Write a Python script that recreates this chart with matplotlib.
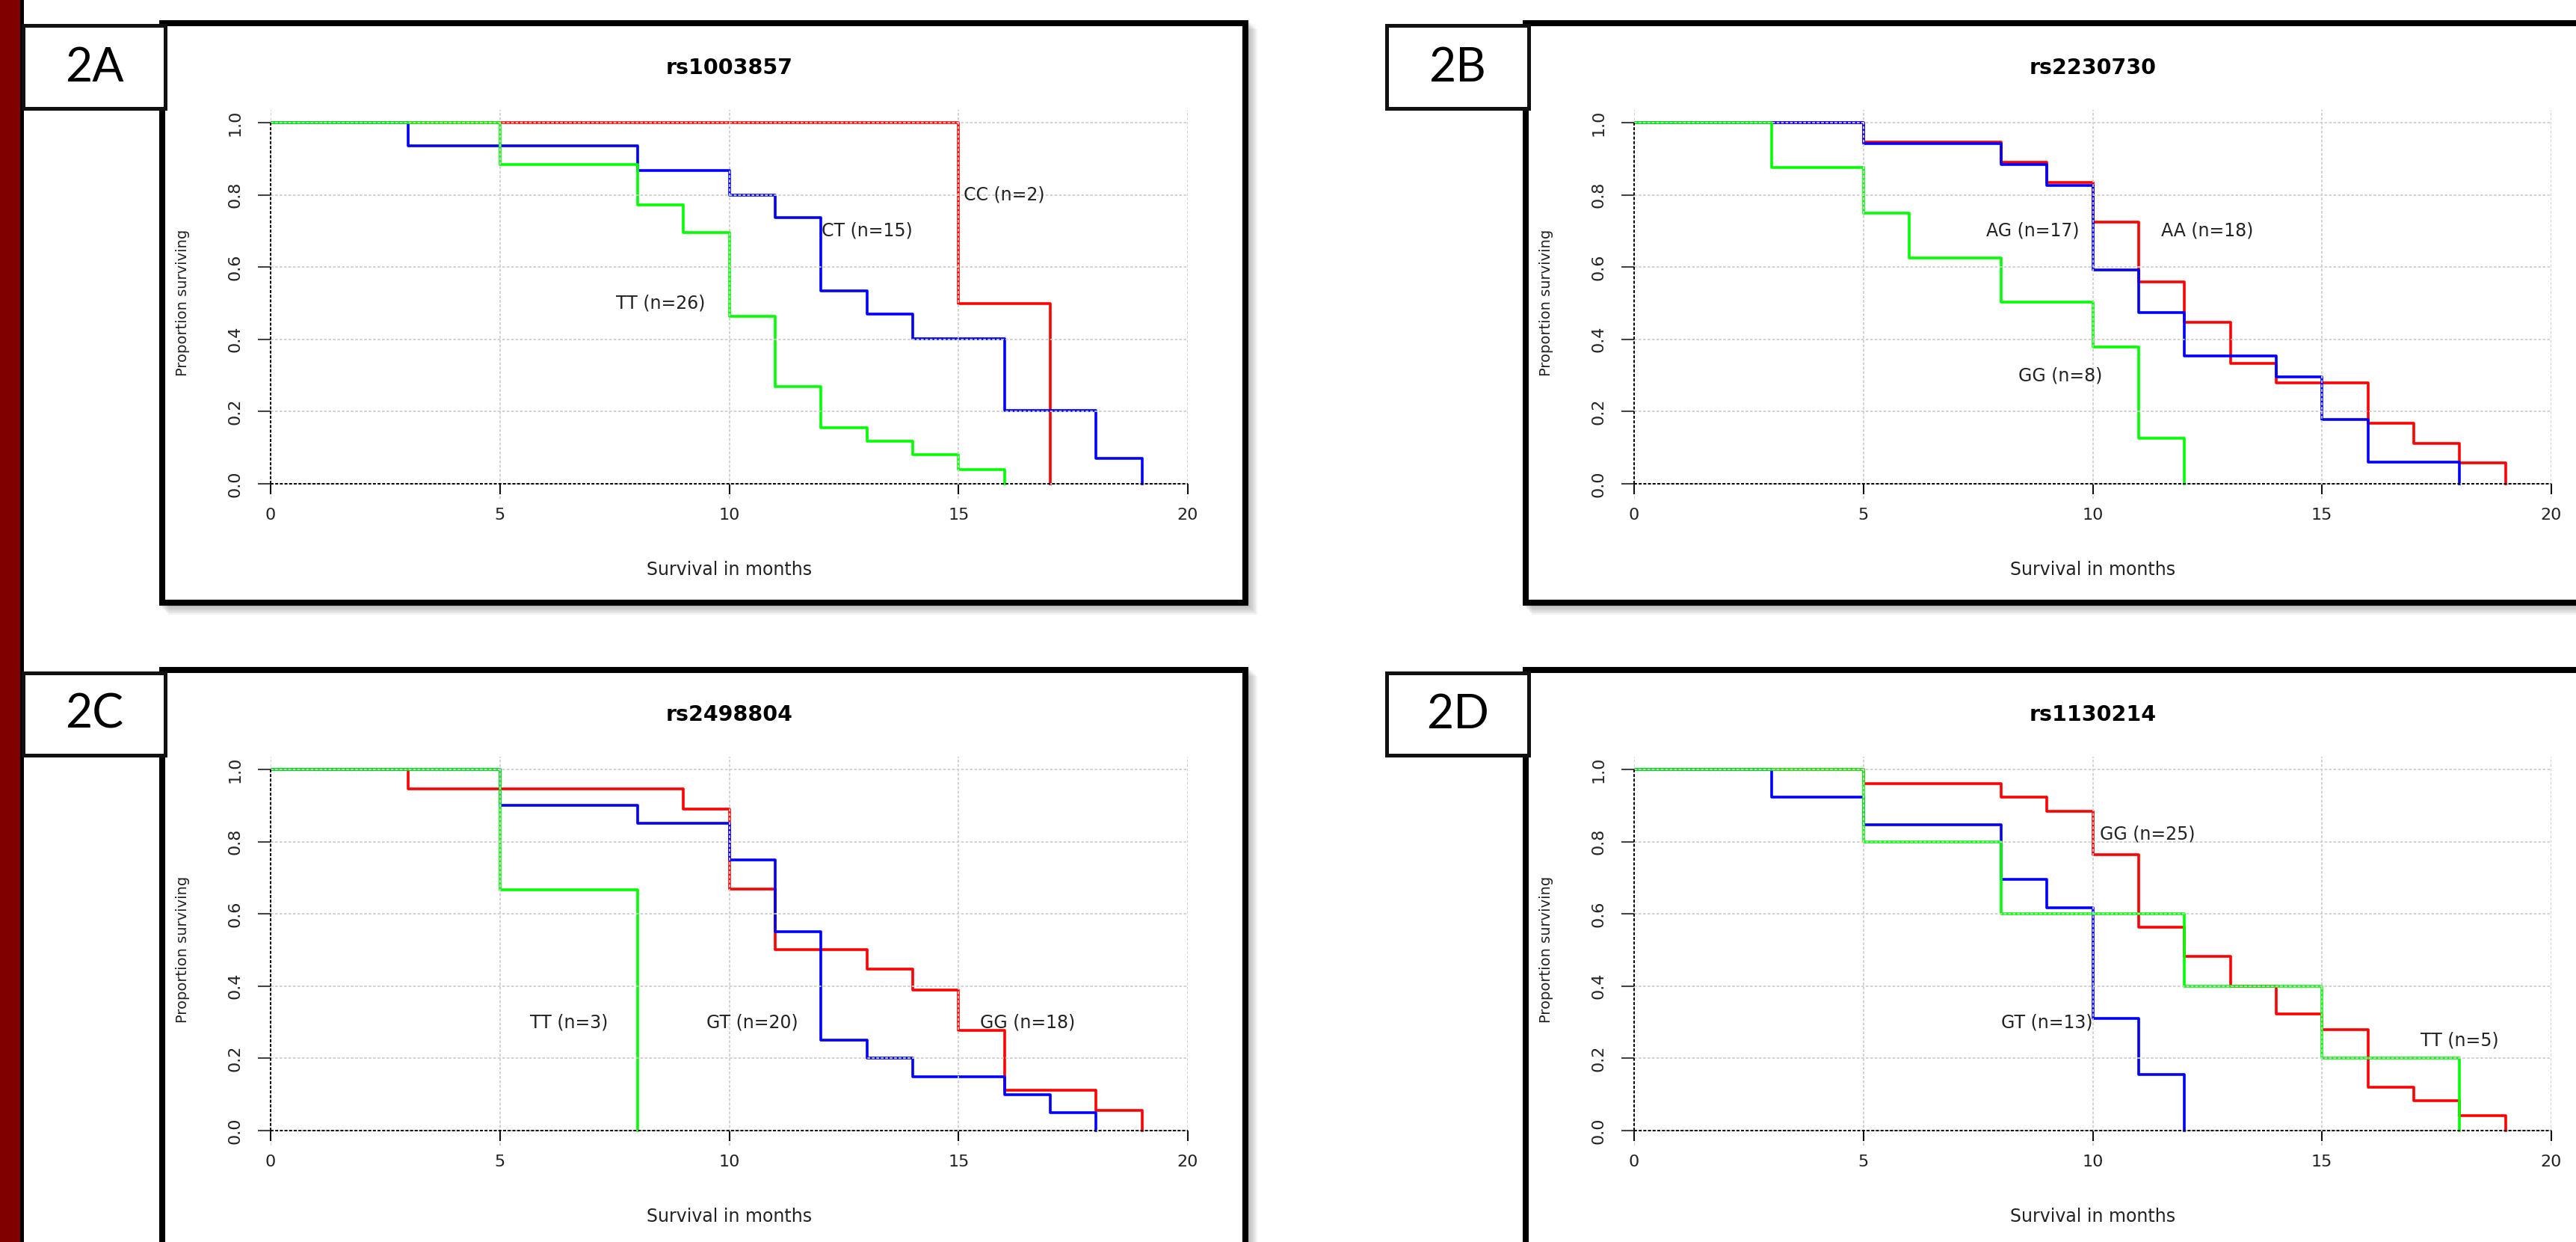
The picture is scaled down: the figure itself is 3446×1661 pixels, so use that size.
import matplotlib
matplotlib.use('Agg')
import matplotlib.pyplot as plt
from matplotlib.patches import Rectangle

plt.rcParams['font.family'] = ['DejaVu Sans']

# --- data (time in months, survival proportion) ---
x_ticks = [0, 5, 10, 15, 20]
y_ticks = [0.0, 0.2, 0.4, 0.6, 0.8, 1.0]
y_tick_labels = ['0.0', '0.2', '0.4', '0.6', '0.8', '1.0']

# 2A rs1003857
a_cc_t = [0, 15, 17]
a_cc_s = [1.0, 0.5, 0.0]
a_ct_t = [0, 3, 8, 10, 11, 12, 13, 14, 16, 18, 19]
a_ct_s = [1.0, 0.935, 0.867, 0.80, 0.737, 0.535, 0.469, 0.402, 0.203, 0.07, 0.0]
a_tt_t = [0, 5, 8, 9, 10, 11, 12, 13, 14, 15, 16]
a_tt_s = [1.0, 0.885, 0.772, 0.695, 0.463, 0.269, 0.156, 0.118, 0.080, 0.040, 0.0]

# 2B rs2230730
b_aa_t = [0, 5, 8, 9, 10, 11, 12, 13, 14, 16, 17, 18, 19]
b_aa_s = [1.0, 0.946, 0.891, 0.835, 0.724, 0.559, 0.448, 0.333, 0.279, 0.168, 0.112, 0.057, 0.0]
b_ag_t = [0, 5, 8, 9, 10, 11, 12, 14, 15, 16, 18]
b_ag_s = [1.0, 0.942, 0.885, 0.827, 0.592, 0.474, 0.355, 0.296, 0.179, 0.06, 0.0]
b_gg_t = [0, 3, 5, 6, 8, 10, 11, 12]
b_gg_s = [1.0, 0.876, 0.75, 0.625, 0.504, 0.378, 0.127, 0.0]

# 2C rs2498804
c_gg_t = [0, 3, 9, 10, 11, 13, 14, 15, 16, 18, 19]
c_gg_s = [1.0, 0.946, 0.891, 0.668, 0.502, 0.447, 0.389, 0.278, 0.112, 0.056, 0.0]
c_gt_t = [0, 5, 8, 10, 11, 12, 13, 14, 16, 17, 18]
c_gt_s = [1.0, 0.90, 0.85, 0.75, 0.55, 0.25, 0.20, 0.15, 0.10, 0.05, 0.0]
c_tt_t = [0, 5, 8]
c_tt_s = [1.0, 0.667, 0.0]

# 2D rs1130214
d_gg_t = [0, 5, 8, 9, 10, 11, 12, 13, 14, 15, 16, 17, 18, 19]
d_gg_s = [1.0, 0.96, 0.924, 0.884, 0.764, 0.563, 0.483, 0.40, 0.322, 0.28, 0.12, 0.083, 0.041, 0.0]
d_gt_t = [0, 3, 5, 8, 9, 10, 11, 12]
d_gt_s = [1.0, 0.924, 0.847, 0.696, 0.617, 0.31, 0.155, 0.0]
d_tt_t = [0, 5, 8, 12, 15, 18]
d_tt_s = [1.0, 0.80, 0.60, 0.40, 0.20, 0.0]

panels = [
    dict(tag='2A', title='rs1003857', dx=0, dy=0,
         curves=[(a_cc_t, a_cc_s, 'red'), (a_ct_t, a_ct_s, 'blue'), (a_tt_t, a_tt_s, '#00ff00')],
         notes=[('CC (n=2)', 16.0, 0.80), ('CT (n=15)', 13.0, 0.70), ('TT (n=26)', 8.5, 0.50)]),
    dict(tag='2B', title='rs2230730', dx=1824, dy=0,
         curves=[(b_aa_t, b_aa_s, 'red'), (b_ag_t, b_ag_s, 'blue'), (b_gg_t, b_gg_s, '#00ff00')],
         notes=[('AG (n=17)', 8.7, 0.70), ('AA (n=18)', 12.5, 0.70), ('GG (n=8)', 9.3, 0.30)]),
    dict(tag='2C', title='rs2498804', dx=0, dy=865,
         curves=[(c_gg_t, c_gg_s, 'red'), (c_gt_t, c_gt_s, 'blue'), (c_tt_t, c_tt_s, '#00ff00')],
         notes=[('TT (n=3)', 6.5, 0.30), ('GT (n=20)', 10.5, 0.30), ('GG (n=18)', 16.5, 0.30)]),
    dict(tag='2D', title='rs1130214', dx=1824, dy=865,
         curves=[(d_gg_t, d_gg_s, 'red'), (d_gt_t, d_gt_s, 'blue'), (d_tt_t, d_tt_s, '#00ff00')],
         notes=[('GG (n=25)', 11.2, 0.82), ('GT (n=13)', 9.0, 0.30), ('TT (n=5)', 18.0, 0.25)]),
]

W, H = 3446, 1661
fig = plt.figure(figsize=(W / 100, H / 100), dpi=100)
fig.patch.set_facecolor('white')


def box(x1, y1, x2, y2, **kw):
    # rectangle in pixel coords, origin top-left
    r = Rectangle((x1 / W, 1 - y2 / H), (x2 - x1) / W, (y2 - y1) / H,
                  transform=fig.transFigure, **kw)
    fig.add_artist(r)
    return r


def ftext(x, y, s, **kw):
    fig.text(x / W, 1 - y / H, s, ha='center', va='center', **kw)


# dark red strip on the left
box(0, 0, 27, H, facecolor='#800000', edgecolor='none', zorder=-10)
box(27, 0, 32, H, facecolor='black', edgecolor='none', zorder=-10)

for p in panels:
    dx, dy = p['dx'], p['dy']

    # soft drop shadow
    for s in range(2, 14, 2):
        box(213 + dx + s, 27 + dy + s, 1670 + dx + s, 810 + dy + s,
            facecolor='#555555', edgecolor='none', alpha=0.07, zorder=-9)
    # panel frame
    box(217 + dx, 31 + dy, 1666 + dx, 806 + dy, facecolor='white',
        edgecolor='black', linewidth=5.8, zorder=-8)

    # label box
    box(30.5 + dx, 34.5 + dy, 220.5 + dx, 144.5 + dy, facecolor='white',
        edgecolor='#111111', linewidth=3.6, zorder=5)
    ftext(126 + dx, 91 + dy, p['tag'], fontsize=45, family=['Lato', 'DejaVu Sans'],
          color='black', zorder=6)

    # plotting region: x 0..20 -> 362..1589 px, y 0..1 -> 647..164 px
    ax = fig.add_axes([(362 + dx) / W, 1 - (667.3 + dy) / H, 1227 / W, 520.2 / H])
    ax.set_facecolor('none')
    ax.set_xlim(0, 20)
    ax.set_ylim(-0.042, 1.035)

    for t, s, c in p['curves']:
        ax.step(t, s, where='post', color=c, lw=2.6, zorder=2)

    ax.set_axisbelow(False)
    ax.grid(True, color='#cfcfcf', lw=1.3, linestyle=(0, (2, 1.3)))

    ax.plot([0, 20], [0, 0], color='black', lw=1.4, linestyle=(0, (2, 1.2)),
            clip_on=False, zorder=3)
    ax.plot([0, 0], [0, 1], color='black', lw=1.4, linestyle=(0, (2, 1.2)),
            clip_on=False, zorder=3)

    for txt, x, y in p['notes']:
        ax.text(x, y, txt, ha='center', va='center', fontsize=17, color='#222222', zorder=4)

    for sp in ax.spines.values():
        sp.set_visible(False)
    ax.spines['bottom'].set_position(('data', 0))

    ax.set_xticks(x_ticks)
    ax.set_xticklabels([str(v) for v in x_ticks])
    ax.set_yticks(y_ticks)
    ax.set_yticklabels(y_tick_labels, rotation=90, va='center')
    ax.tick_params(axis='x', length=10, width=1.5, color='#111111', pad=13,
                   labelsize=16, labelcolor='#222222')
    ax.tick_params(axis='y', length=12, width=1.5, color='#444444', pad=15,
                   labelsize=16, labelcolor='#222222')

    ftext(975.5 + dx, 91 + dy, p['title'], fontsize=20.5, fontweight='bold', color='black')
    ftext(975.5 + dx, 762 + dy, 'Survival in months', fontsize=17, color='#222222')
    ftext(244 + dx, 405 + dy, 'Proportion surviving', fontsize=14, rotation=90,
          color='#222222')

fig.savefig('out.png', dpi=100, facecolor='white')
